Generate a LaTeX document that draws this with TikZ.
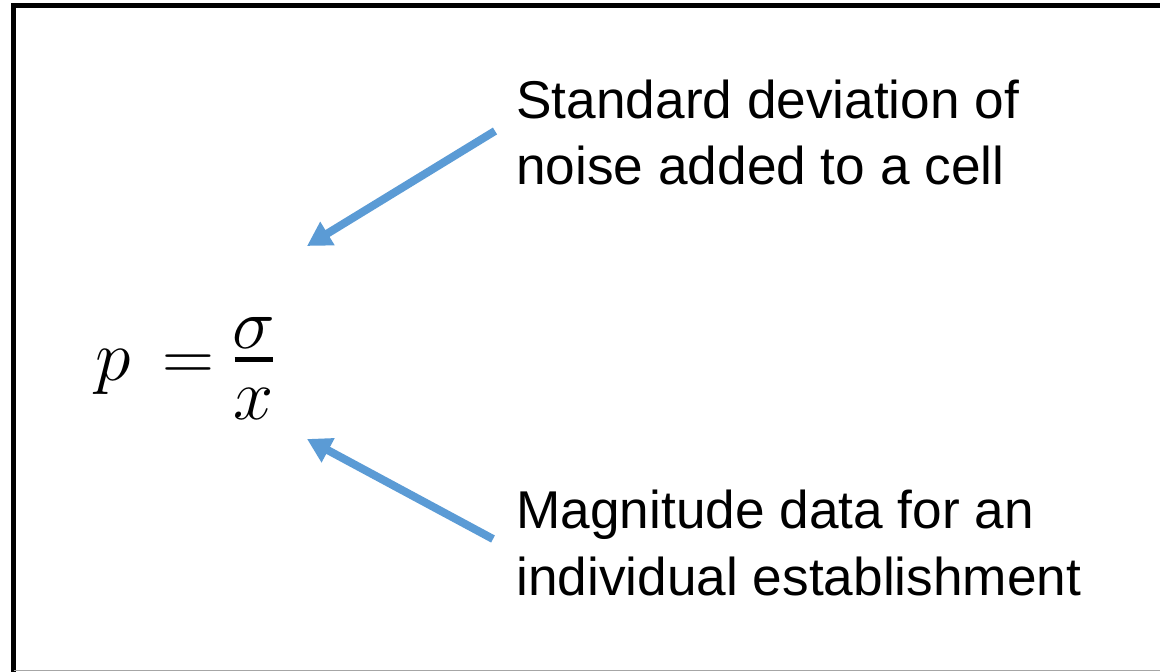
\documentclass[tikz,border=0pt]{standalone}
\usepackage{fix-cm}
\usepackage{fontspec}
\setmainfont{Liberation Sans}
\usetikzlibrary{arrows.meta}
\definecolor{arrowblue}{HTML}{5B9BD5}
\definecolor{edgegray}{HTML}{A6A6A6}
\newcommand{\myfrac}[2]{\lower19.5pt\vbox{\hbox to 19pt{\hss$#1$\hss}\kern4.25pt\hrule height 2.5pt\kern13.25pt\hbox to 19pt{\hss$#2$\hss}}}
\tikzset{
  label/.style={anchor=base west, inner sep=0pt, align=left, font=\fontsize{26.6pt}{33pt}\selectfont},
  pointer/.style={draw=arrowblue, line width=4pt, -{Triangle[length=12pt,width=13pt]}},
  frame/.style={draw=black, line width=2.5pt},
}
\begin{document}
\begin{tikzpicture}[x=0.5pt,y=-0.5pt]
\useasboundingbox (0,0) rectangle (1160,672);
% frame
\draw[frame] (1170,5.5) -- (13.5,5.5) -- (13.5,680);
\draw[edgegray, line width=0.75pt] (13.5,670.5) -- (1170,670.5);
% equation
\node[anchor=base west, inner sep=0pt, font=\fontsize{36pt}{40pt}\selectfont] (eq) at (95,381) {$p\mkern3mu=\myfrac{\sigma}{x}$};
% labels (base = baseline of last line)
\node[label] (t1) at (516,185) {Standard deviation of\\noise added to a cell};
\node[label] (t2) at (516,595) {Magnitude data for an\\individual establishment};
% arrows
\coordinate (a1s) at (495,131);
\coordinate (a1e) at (307,246);
\coordinate (a2s) at (493,539);
\coordinate (a2e) at (307,439);
\draw[pointer] (a1s) -- (a1e);
\draw[pointer] (a2s) -- (a2e);
\end{tikzpicture}
\end{document}
